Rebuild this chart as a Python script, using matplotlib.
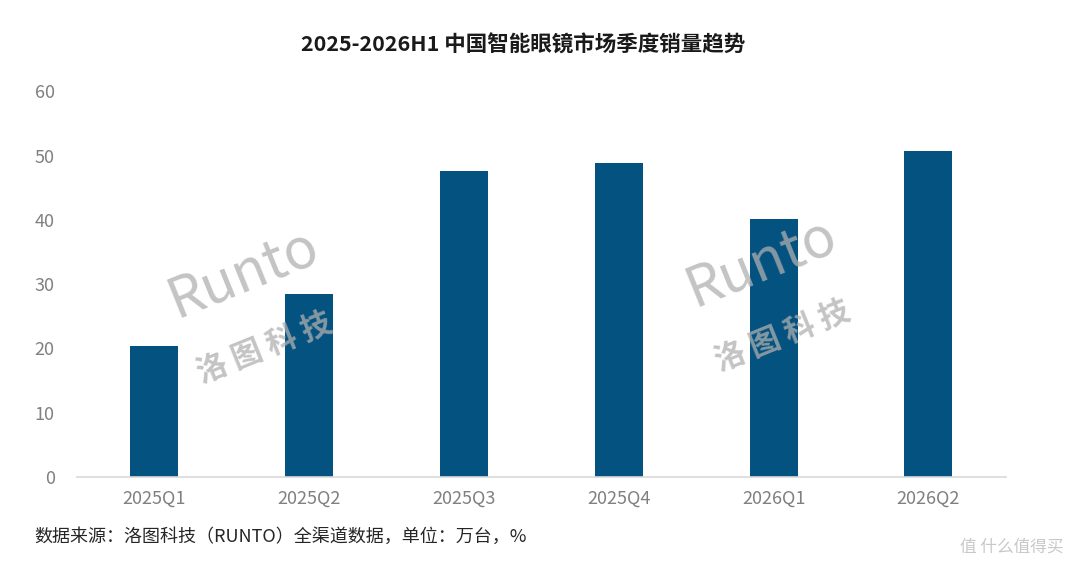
import matplotlib
matplotlib.use("Agg")
import matplotlib.pyplot as plt

plt.rcParams['font.family'] = ['Noto Sans CJK SC', 'DejaVu Sans']

quarters = ['2025Q1', '2025Q2', '2025Q3', '2025Q4', '2026Q1', '2026Q2']
sales = [20.4, 28.5, 47.6, 48.8, 40.1, 50.7]
title = '2025-2026H1 中国智能眼镜市场季度销量趋势'
source = '数据来源：洛图科技（RUNTO）全渠道数据，单位：万台，%'

bar_color = '#04527f'
tick_color = '#808080'

fig = plt.figure(figsize=(10.8, 5.7), dpi=100)
ax = fig.add_axes([0.0713, 0.163, 0.860, 0.677])

x = range(len(quarters))
ax.bar(x, sales, width=0.31, color=bar_color, zorder=2)

ax.set_xlim(-0.5, len(quarters) - 0.5)
ax.set_ylim(0, 60)
ax.set_yticks(range(0, 61, 10))
ax.set_xticks(list(x))
ax.set_xticklabels(quarters)

for s in ['top', 'right', 'left']:
    ax.spines[s].set_visible(False)
ax.spines['bottom'].set_color('#d9d9d9')
ax.spines['bottom'].set_linewidth(1.2)
ax.tick_params(axis='both', length=0, labelcolor=tick_color, labelsize=13)
ax.tick_params(axis='x', pad=9)
ax.tick_params(axis='y', pad=16)

fig.text(0.484, 0.921, title, ha='center', va='center', fontsize=15.5,
         fontweight='bold', color='#1a1a1a')
fig.text(0.032, 0.058, source, ha='left', va='center', fontsize=13,
         color='#262626')

# watermarks
for wx, wy in [(0.225, 0.52), (0.705, 0.54)]:
    fig.text(wx, wy, 'Runto', ha='center', va='center', fontsize=40,
             color='#b0b0b0', alpha=0.75, rotation=22, zorder=5)
    fig.text(wx + 0.02, wy - 0.13, '洛 图 科 技', ha='center', va='center',
             fontsize=22, fontweight='bold', color='#b0b0b0', alpha=0.75,
             rotation=22, zorder=5)

fig.text(0.985, 0.04, '值 什么值得买', ha='right', va='center', fontsize=12,
         color='#c8c8c8')

fig.savefig('out.png', dpi=100)
